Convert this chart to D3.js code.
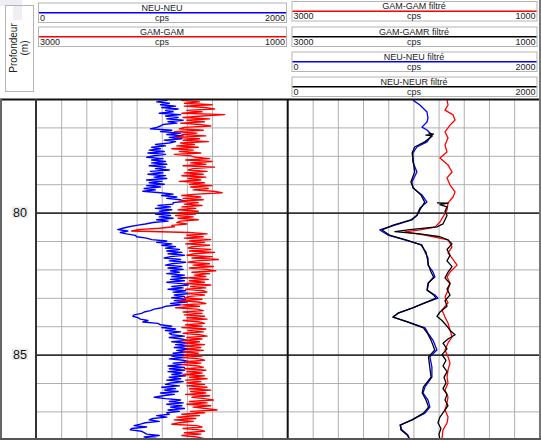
<!DOCTYPE html>
<html><head><meta charset="utf-8">
<script src="https://cdn.jsdelivr.net/npm/d3@7"></script>
<style>body{margin:0;background:#fff;} svg{display:block;font-family:"Liberation Sans",Arial,sans-serif;}</style>
</head><body><svg id="c" width="541" height="440"></svg>
<script>
// ---------- DATA ----------
const depthTop = 76, depthBottom = 88, rawStep = 0.05;
const majorDepths = [80, 85];
const minorDepths = [77, 78, 79, 81, 82, 83, 84, 86, 87];
const depthLabels = ["80", "85"];
const neuRange = [0, 2000];
const gamRange = [3000, 1000];
const unitLabel = "cps";
const track1Curves = ["NEU-NEU", "GAM-GAM"];
const track2Curves = ["GAM-GAM filtré", "GAM-GAMR filtré", "NEU-NEU filtré", "NEU-NEUR filtré"];
const depthTitle = ["Profondeur", "(m)"];

// raw NEU-NEU (cps), sampled every 0.05 m from 76 m
const neuRaw = [930,1040,960,1060,
990,1110,1000,1130,1030,1090,980,
1150,1030,1130,1040,1170,1050,1120,1010,990,
960,910,1080,990,
1150,1040,1170,1060,1160,1020,1110,
1060,950,1030,920,990,
900,1020,890,1030,940,880,1010,920,1030,
920,1040,900,1030,950,1060,910,1010,890,1030,940,1040,
880,1000,900,1020,880,990,860,950,850,
990,1090,1000,1120,1040,1150,1190,1090,
1090,970,1070,950,1080,980,1060,
950,1070,980,1090,960,1050,930,
870,800,740,
690,650,730,670,
720,790,800,880,
920,1040,960,1080,1000,1110,1030,
1140,1040,1160,1050,1180,1070,1020,1150,1060,1190,1080,1030,1160,1050,1170,1070,1140,1040,1180,
1080,1200,1070,1180,1040,1160,1210,1080,1170,1050,1190,1090,1220,1100,1180,
1080,1190,1100,1200,1070,1150,1030,
1000,940,910,860,
840,780,770,810,830,
890,850,970,990,
1080,1000,1110,1030,1150,1060,
1080,1180,1060,1160,1200,1080,
1220,1110,1210,1100,1230,1120,1200,1090,
1190,1080,1180,1060,1170,1220,1090,1160,1050,1180,
1060,1180,1050,1160,1080,1190,1060,1150,1040,1170,1070,
1030,1140,1000,1110,1020,1130,990,1100,1010,940,
1030,1150,1060,1170,1040,1160,1070,1180,1050,1140,1040,
1060,960,1040,930,900,980,870,
830,780,880,760,750,840,860,
880,980,860,960,940];

// raw GAM-GAM (cps), sampled every 0.05 m from 76 m
const gamRaw = [1660,1840,1700,1820,
1600,1820,1660,1580,1800,1680,1840,1500,
1680,1830,1620,1800,1660,1850,1700,1610,1820,
1860,1670,1900,1720,1840,1650,1890,1700,1830,1630,1850,1740,
1880,1710,1920,1750,1860,1690,1900,1770,1730,
1620,1810,1600,1770,1650,1830,1580,1750,1790,1640,
1820,1670,1840,1650,1790,1690,1860,1660,1780,
1600,1770,1630,1750,1590,1520,1720,
1840,1690,1830,1670,1860,1710,1820,1680,1840,1730,1870,1710,
1860,1730,1890,1750,1870,1710,1850,
1880,1800,1920,
1900,2020,2190,2240,1780,
1640,1800,1670,1820,1610,1780,1660,1810,1620,1760,1790,
1610,1780,1580,1740,1800,1600,1760,1550,1730,1790,1620,1750,1590,1780,1640,1570,1760,1620,1740,
1650,1800,1630,1780,1660,1820,1610,1770,1650,1810,1670,1640,1790,1660,1780,
1820,1680,1860,1710,1650,1840,1700,1890,1720,1670,1830,
1680,1820,1660,1800,1640,1830,1700,1660,1810,1680,1840,1650,1790,1670,1830,1700,1640,1800,1680,1840,1700,1810,1660,1820,1690,1800,1670,1830,1710,
1820,1680,1830,1700,1660,1810,1690,1840,1710,1670,1820,1650,1800,1680,1830,1660,1780,1640,1810,1690,1800,
1660,1800,1640,1780,1610,1770,1650,1810,1620,1760,1660,1590,1780,1640,1800,1610,1750,1650,1560,1770,1660,
1840,1700,1880,1730,1900,1750,1860,1920,1720,
1680,1830,1700,1660,1820,1690,1840,1720,1670,1810];

// NEU-NEU filtré
const neuFiltDepth = [76.04,76.21,76.46,76.67,76.81,76.99,77.09,77.27,77.51,77.69,77.90,78.22,78.57,78.92,79.13,79.38,79.63,79.84,80.09,80.26,80.44,80.61,80.79,80.96,81.14,81.39,81.60,81.85,82.09,82.27,82.48,82.73,82.90,83.01,83.18,83.36,83.54,83.68,83.85,84.06,84.24,84.49,84.84,85.08,85.44,85.79,86.14,86.35,86.60,86.85,87.06,87.30,87.48,87.65,87.83,87.99];
const neuFilt = [996,1052,1108,1116,1108,1068,1108,1147,1108,1028,996,996,1028,988,996,1068,1108,1052,1028,988,853,733,797,932,1068,1092,1116,1116,1155,1171,1116,1108,1171,1195,1092,988,876,837,956,1092,1116,1155,1187,1131,1147,1147,1092,1076,1116,1131,1092,988,892,908,956,972];

// NEU-NEUR filtré
const neurFiltDepth = [77.20,77.24,77.27,77.30,77.51,77.69,77.90,78.22,78.57,78.92,79.13,79.38,79.63,79.84,80.09,80.26,80.44,80.61,80.79,80.96,81.14,81.39,81.60,81.85,82.09,82.27,82.48,82.73,82.90,83.01,83.18,83.36,83.54,83.68,83.85,84.06,84.24,84.49,84.84,85.08,85.44,85.79,86.14,86.35,86.60,86.85,87.06,87.30,87.48,87.65,87.83,87.99];
const neurFilt = [1120,1160,1100,1150,1090,1010,990,1000,1010,980,1000,1060,1090,1060,1030,980,840,750,810,940,1060,1100,1110,1120,1140,1160,1120,1110,1160,1180,1090,990,880,840,950,1080,1110,1140,1170,1120,1130,1140,1080,1070,1100,1120,1080,990,900,900,950,970];

// GAM-GAM filtré
const gamFiltDepth = [76.04,76.21,76.39,76.56,76.74,76.92,77.16,77.37,77.62,77.87,78.08,78.32,78.57,78.78,79.03,79.27,79.45,79.66,79.91,80.15,80.33,80.51,80.61,80.68,80.79,80.96,81.21,81.42,81.60,81.85,82.09,82.27,82.48,82.73,82.97,83.18,83.43,83.68,83.89,84.13,84.38,84.59,84.84,85.08,85.30,85.54,85.79,86.00,86.25,86.49,86.70,86.95,87.20,87.41,87.65,87.99];
const gamFilt = [1733,1725,1749,1685,1669,1709,1749,1725,1749,1733,1789,1725,1693,1733,1709,1669,1685,1725,1733,1765,1789,1829,1948,2068,1908,1725,1693,1725,1693,1653,1709,1733,1709,1725,1749,1725,1773,1749,1725,1709,1693,1725,1749,1725,1709,1725,1733,1725,1749,1725,1733,1749,1725,1733,1765,1773];

// GAM-GAMR filtré
const gamrFiltDepth = [79.66,79.67,79.72,79.80,79.95,80.10,80.25,80.40,80.50,80.60,80.67,80.75,80.85,80.96,81.10,81.30,81.50,81.70,81.90,82.10,82.30,82.50,82.70,82.90,83.10,83.30,83.50,83.65,83.80,84.00,84.15,84.30,84.45,84.60,84.80,85.00,85.20,85.40,85.60,85.80,86.00,86.20,86.40,86.60,86.80,87.00,87.20,87.40,87.60,87.80,87.99];
const gamrFilt = [1813,1725,1789,1733,1749,1733,1749,1765,1813,2028,2147,1948,1789,1725,1693,1733,1709,1733,1693,1725,1749,1709,1733,1709,1749,1733,1789,1813,1773,1733,1709,1669,1725,1765,1733,1773,1741,1765,1733,1757,1741,1765,1733,1749,1725,1757,1789,1805,1781,1797,1789];

// ---------- STYLES ----------
const colorOf = {
  "NEU-NEU": "#0000ff", "GAM-GAM": "#ff0000",
  "GAM-GAM filtré": "#ff0000", "GAM-GAMR filtré": "#000000",
  "NEU-NEU filtré": "#0000ff", "NEU-NEUR filtré": "#000000"
};
const rangeOf = {
  "NEU-NEU": neuRange, "GAM-GAM": gamRange,
  "GAM-GAM filtré": gamRange, "GAM-GAMR filtré": gamRange,
  "NEU-NEU filtré": neuRange, "NEU-NEUR filtré": neuRange
};

// ---------- LAYOUT ----------
const svg = d3.select("#c");
const W = 541, H = 440, plotTop = 99, plotBottom = 439.8;
const y = d3.scaleLinear().domain([depthTop, depthBottom]).range([plotTop, plotBottom]);
const tracks = [
  {x0: 36, x1: 287.5, hx0: 38, hx1: 286, tops: [2.5, 26.5], curves: track1Curves},
  {x0: 287.5, x1: 539.3, hx0: 291.5, hx1: 536.5, tops: [1, 26.5, 51.5, 76.5], curves: track2Curves}
];

// artefact top-left
svg.append("path").attr("d", "M0,0H22V20H13V6H0Z").attr("fill", "#f1eef3");

// depth header
svg.append("rect").attr("x", 5.5).attr("y", 5.5).attr("width", 28).attr("height", 86)
  .attr("fill", "none").attr("stroke", "#b4b4b4");
svg.append("text").attr("transform", "translate(16.5,48) rotate(-90)").attr("text-anchor", "middle")
  .attr("font-size", 10).attr("fill", "#222").text(depthTitle[0]);
svg.append("text").attr("transform", "translate(27.5,48) rotate(-90)").attr("text-anchor", "middle")
  .attr("font-size", 10).attr("fill", "#222").text(depthTitle[1]);

const defs = svg.append("defs");

tracks.forEach((t, ti) => {
  const gx = d3.scaleLinear().domain(neuRange).range([t.x0, t.x1]);
  const vg = svg.append("g").attr("transform", `translate(0,${plotTop})`)
    .call(d3.axisTop(gx).tickValues(d3.range(200, 2000, 200)).tickSize(-(plotBottom - plotTop)).tickFormat(""));
  vg.select(".domain").remove();
  vg.selectAll("line").attr("stroke", "#b0b0b0").attr("stroke-width", 1);
  const hg = svg.append("g").attr("transform", `translate(${t.x0},0)`)
    .call(d3.axisLeft(y).tickValues(minorDepths).tickSize(-(t.x1 - t.x0)).tickFormat(""));
  hg.select(".domain").remove();
  hg.selectAll("line").attr("stroke", "#b0b0b0").attr("stroke-width", 1);
  const mg = svg.append("g").attr("transform", `translate(${t.x0},0)`)
    .call(d3.axisLeft(y).tickValues(majorDepths).tickSize(-(t.x1 - t.x0)).tickFormat(""));
  mg.select(".domain").remove();
  mg.selectAll("line").attr("stroke", "#333").attr("stroke-width", 1.6);

  defs.append("clipPath").attr("id", "clip" + ti).append("rect")
    .attr("x", t.x0).attr("y", plotTop).attr("width", t.x1 - t.x0).attr("height", plotBottom - plotTop);

  t.curves.forEach((name, ci) => {
    const top = t.tops[ci];
    const r = rangeOf[name];
    const g = svg.append("g");
    g.append("rect").attr("x", t.hx0 + 0.5).attr("y", top + 0.5).attr("width", t.hx1 - t.hx0).attr("height", 19.5)
      .attr("fill", "none").attr("stroke", "#b4b4b4");
    g.append("text").attr("x", (t.hx0 + t.hx1) / 2).attr("y", top + 8.2).attr("text-anchor", "middle")
      .attr("font-size", 9).attr("fill", "#222").text(name);
    g.append("line").attr("x1", t.hx0 + 1).attr("x2", t.hx1).attr("y1", top + 10.2).attr("y2", top + 10.2)
      .attr("stroke", colorOf[name]).attr("stroke-width", 1.5);
    g.append("text").attr("x", t.hx0 + 2).attr("y", top + 18.2).attr("font-size", 9).attr("fill", "#222").text(r[0]);
    g.append("text").attr("x", (t.hx0 + t.hx1) / 2).attr("y", top + 18.2).attr("text-anchor", "middle")
      .attr("font-size", 9).attr("fill", "#222").text(unitLabel);
    g.append("text").attr("x", t.hx1 - 1).attr("y", top + 18.2).attr("text-anchor", "end")
      .attr("font-size", 9).attr("fill", "#222").text(r[1]);
  });
});

function drawCurve(ti, name, depths, values, width) {
  const t = tracks[ti];
  const x = d3.scaleLinear().domain(rangeOf[name]).range([t.x0, t.x1]);
  const pts = values.map((v, i) => [depths[i], v]).filter(p => p[0] !== undefined);
  const line = d3.line().x(p => x(p[1])).y(p => y(p[0]));
  svg.append("path").attr("clip-path", `url(#clip${ti})`).attr("d", line(pts))
    .attr("fill", "none").attr("stroke", colorOf[name]).attr("stroke-width", width).attr("stroke-linejoin", "round");
}
const rawDepthN = d3.range(neuRaw.length).map(i => depthTop + i * rawStep);
const rawDepthG = d3.range(gamRaw.length).map(i => depthTop + i * rawStep);
drawCurve(0, "NEU-NEU", rawDepthN, neuRaw, 1.4);
drawCurve(0, "GAM-GAM", rawDepthG, gamRaw, 1.4);
drawCurve(1, "GAM-GAM filtré", gamFiltDepth, gamFilt, 1.3);
drawCurve(1, "NEU-NEU filtré", neuFiltDepth, neuFilt, 1.3);
drawCurve(1, "GAM-GAMR filtré", gamrFiltDepth, gamrFilt, 1.3);
drawCurve(1, "NEU-NEUR filtré", neurFiltDepth, neurFilt, 1.3);

majorDepths.forEach((d, i) => {
  svg.append("rect").attr("x", 12).attr("y", y(d) - 6).attr("width", 16).attr("height", 11.5).attr("fill", "#ececec");
  svg.append("text").attr("x", 20).attr("y", y(d) + 4.5).attr("text-anchor", "middle")
    .attr("font-size", 12.5).attr("fill", "#111").text(depthLabels[i]);
});

svg.append("line").attr("x1", 0).attr("x2", W).attr("y1", 99.5).attr("y2", 99.5).attr("stroke", "#111").attr("stroke-width", 2);
svg.append("line").attr("x1", 36).attr("x2", 36).attr("y1", 99).attr("y2", H).attr("stroke", "#333").attr("stroke-width", 2);
svg.append("line").attr("x1", 287.7).attr("x2", 287.7).attr("y1", 99).attr("y2", H).attr("stroke", "#111").attr("stroke-width", 2);
svg.append("line").attr("x1", 1).attr("x2", 1).attr("y1", 99).attr("y2", H).attr("stroke", "#666").attr("stroke-width", 2);
svg.append("line").attr("x1", 540).attr("x2", 540).attr("y1", 0).attr("y2", H).attr("stroke", "#777").attr("stroke-width", 2);
svg.append("line").attr("x1", 0).attr("x2", W).attr("y1", 439).attr("y2", 439).attr("stroke", "#555").attr("stroke-width", 2);
</script></body></html>
